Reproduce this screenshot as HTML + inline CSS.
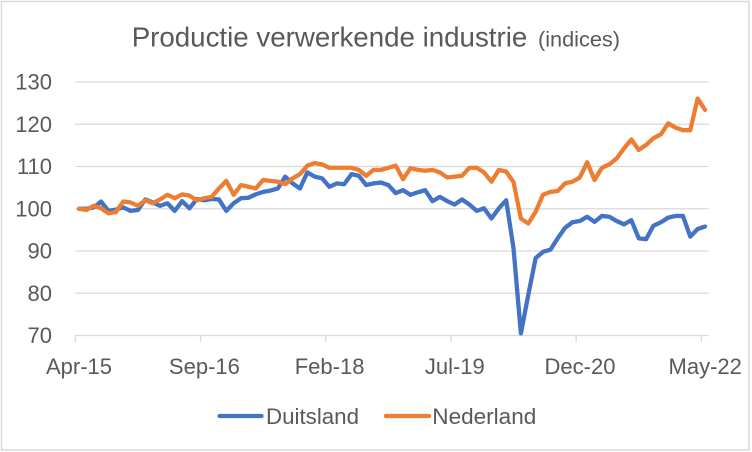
<!DOCTYPE html>
<html>
<head>
<meta charset="utf-8">
<style>
  html, body { margin: 0; padding: 0; background: #ffffff; }
  svg { display: block; }
  text { font-family: "Liberation Sans", Arial, sans-serif; fill: #595959; }
</style>
</head>
<body>
<svg width="752" height="452" viewBox="0 0 752 452" xmlns="http://www.w3.org/2000/svg">
  <rect x="0" y="0" width="752" height="452" fill="#ffffff"/>
  <rect x="1.5" y="1.5" width="747.5" height="448.5" fill="none" stroke="#d9d9d9" stroke-width="1.5"/>

  <!-- Title -->
  <text x="131.7" y="46.7" font-size="27.7" textLength="395.6" lengthAdjust="spacingAndGlyphs">Productie verwerkende industrie</text>
  <text x="538" y="46.7" font-size="21.5" textLength="82" lengthAdjust="spacingAndGlyphs">(indices)</text>

  <!-- Gridlines -->
  <g stroke="#d9d9d9" stroke-width="1.3">
    <line x1="75.3" y1="82" x2="708.7" y2="82"/>
    <line x1="75.3" y1="124.25" x2="708.7" y2="124.25"/>
    <line x1="75.3" y1="166.5" x2="708.7" y2="166.5"/>
    <line x1="75.3" y1="208.75" x2="708.7" y2="208.75"/>
    <line x1="75.3" y1="251" x2="708.7" y2="251"/>
    <line x1="75.3" y1="293.25" x2="708.7" y2="293.25"/>
    <line x1="75.3" y1="335.5" x2="708.7" y2="335.5"/>
    <line x1="75.3" y1="335.5" x2="75.3" y2="342"/>
    <line x1="200.6" y1="335.5" x2="200.6" y2="342"/>
    <line x1="325.8" y1="335.5" x2="325.8" y2="342"/>
    <line x1="451" y1="335.5" x2="451" y2="342"/>
    <line x1="576.2" y1="335.5" x2="576.2" y2="342"/>
    <line x1="701.4" y1="335.5" x2="701.4" y2="342"/>
  </g>

  <!-- Y labels -->
  <g font-size="22" text-anchor="end">
    <text x="52" y="89.5">130</text>
    <text x="52" y="131.75">120</text>
    <text x="52" y="174">110</text>
    <text x="52" y="216.25">100</text>
    <text x="52" y="258.5">90</text>
    <text x="52" y="300.75">80</text>
    <text x="52" y="343">70</text>
  </g>

  <!-- X labels -->
  <g font-size="22" text-anchor="middle">
    <text x="79" y="374">Apr-15</text>
    <text x="204.4" y="374">Sep-16</text>
    <text x="329.6" y="374">Feb-18</text>
    <text x="454.8" y="374">Jul-19</text>
    <text x="580" y="374">Dec-20</text>
    <text x="705.2" y="374">May-22</text>
  </g>

  <!-- Series: x = 79 + i*7.365 ; y = 631.25 - 4.225*v -->
  <g transform="translate(79,631.25) scale(7.365,-4.225)" fill="none" stroke-linejoin="round" stroke-linecap="round">
    <polyline vector-effect="non-scaling-stroke" stroke="#4472c4" stroke-width="4.3" points="
0,100 1,100 2,100.3 3,101.7 4,99.5 5,99.8 6,100.3 7,99.5 8,99.7 9,102.2
10,101.5 11,100.7 12,101.3 13,99.5 14,101.8 15,100.1 16,102.3 17,102 18,102.3 19,102.2
20,99.5 21,101.3 22,102.5 23,102.6 24,103.4 25,104 26,104.3 27,104.8 28,107.6 29,106
30,104.8 31,108.6 32,107.6 33,107.2 34,105.2 35,106 36,105.8 37,108.2 38,107.8 39,105.6
40,106 41,106.2 42,105.6 43,103.7 44,104.4 45,103.3 46,103.9 47,104.4 48,101.8 49,102.8
50,101.8 51,101 52,102.2 53,101 54,99.5 55,100.1 56,97.7 57,100.1 58,102 59,90.6
60,70.5 61,79.6 62,88.3 63,89.8 64,90.3 65,93 66,95.5 67,96.8 68,97.1 69,98.1
70,96.9 71,98.3 72,98.1 73,97.1 74,96.3 75,97.3 76,93 77,92.8 78,96 79,96.8
80,97.9 81,98.3 82,98.3 83,93.4 84,95.2 85,95.8"/>
    <polyline vector-effect="non-scaling-stroke" stroke="#ed7d31" stroke-width="4.3" points="
0,100 1,99.7 2,100.7 3,100.1 4,98.9 5,99.2 6,101.7 7,101.5 8,100.7 9,102
10,101.3 11,102.2 12,103.3 13,102.5 14,103.4 15,103.1 16,102 17,102.5 18,102.8 19,104.8
20,106.6 21,103.3 22,105.6 23,105.2 24,104.8 25,106.8 26,106.6 27,106.4 28,105.8 29,107.2
30,108.2 31,110.2 32,110.8 33,110.5 34,109.7 35,109.7 36,109.7 37,109.7 38,109.2 39,107.8
40,109.2 41,109.2 42,109.7 43,110.2 44,107 45,109.6 46,109.2 47,109 48,109.2 49,108.6
50,107.4 51,107.6 52,107.8 53,109.7 54,109.7 55,108.6 56,106.4 57,109.2 58,108.8 59,106.3
60,97.7 61,96.5 62,99.3 63,103.3 64,104 65,104.2 66,106 67,106.4 68,107.4 69,111
70,106.8 71,109.7 72,110.5 73,111.9 74,114.3 75,116.4 76,113.9 77,115.1 78,116.7 79,117.6
80,120.2 81,119.2 82,118.6 83,118.6 84,126.1 85,123.4"/>
  </g>

  <!-- Legend -->
  <line x1="219.5" y1="416" x2="261.5" y2="416" stroke="#4472c4" stroke-width="4.3" stroke-linecap="round"/>
  <text x="266" y="424" font-size="22.5" textLength="93" lengthAdjust="spacingAndGlyphs">Duitsland</text>
  <line x1="386" y1="416" x2="429" y2="416" stroke="#ed7d31" stroke-width="4.3" stroke-linecap="round"/>
  <text x="432.3" y="424" font-size="22.5" textLength="104" lengthAdjust="spacingAndGlyphs">Nederland</text>
</svg>
</body>
</html>
